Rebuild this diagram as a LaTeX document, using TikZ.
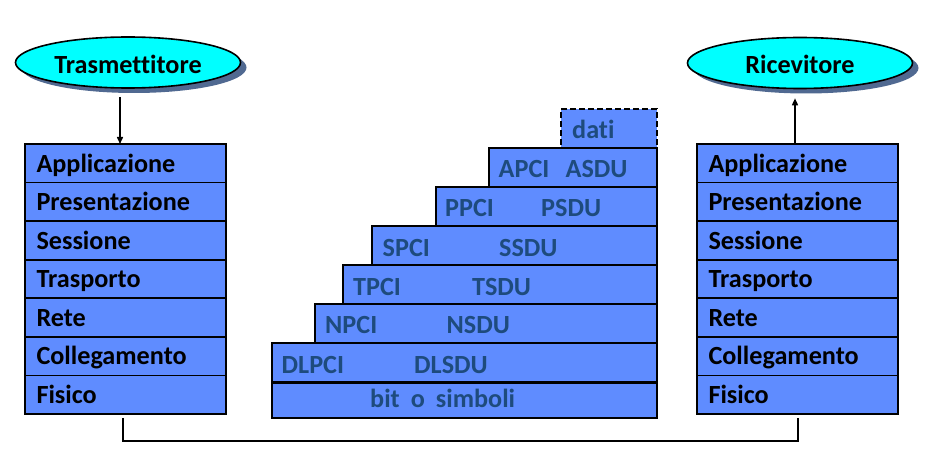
\documentclass[tikz,border=0pt]{standalone}
\usepackage{fontspec}
\setmainfont{Carlito}[Ligatures={TeX,CommonOff}]
\usetikzlibrary{arrows.meta}
\usetikzlibrary{positioning}
\usetikzlibrary{shapes.geometric}
\usetikzlibrary{shadows}
\definecolor{layerblue}{RGB}{95,140,255}
\definecolor{partycyan}{RGB}{0,255,255}
\definecolor{pdutext}{RGB}{30,75,125}
\definecolor{shadowblue}{RGB}{80,105,145}
\newcommand{\bigbold}{\fontsize{26.2}{30}\selectfont\bfseries}

\begin{document}
\begin{tikzpicture}[x=1pt,y=-1pt,
        party/.style={ellipse,draw,line width=1.6pt,fill=partycyan,minimum width=225pt,minimum height=51pt,inner sep=0pt,
            text height=22pt,text depth=0pt,font=\bigbold,
            drop shadow={shadow xshift=6pt,shadow yshift=-5pt,fill=shadowblue,opacity=1}},
        layer/.style={draw,line width=1.8pt,fill=layerblue,minimum height=38.57pt,text width=178pt,inner xsep=11.5pt,inner ysep=0pt,
            text height=21pt,text depth=3.5pt,align=left,font=\bigbold,outer sep=0pt},
        pdubox/.style={draw,line width=1.8pt,fill=layerblue,anchor=north east,minimum height=39pt,inner sep=0pt,outer sep=0pt},
        pdu/.style={anchor=base west,inner sep=0pt,text=pdutext,font=\bigbold},
        flow/.style={line width=1.5pt,-{Triangle[length=7pt,width=6pt]}}]
    \useasboundingbox (0,0) rectangle (926,465);

    % end systems
    \node[party] (trasm) at (128,62.5) {Trasmettitore};
    \node[party] (ricev) at (800,63) {Ricevitore};

    % transmitter stack
    \node[layer,anchor=north west] (tApp) at (25,144) {Applicazione};
    \node[layer,below=0pt of tApp] (tPres) {Presentazione};
    \node[layer,below=0pt of tPres] (tSess) {Sessione};
    \node[layer,below=0pt of tSess] (tTras) {Trasporto};
    \node[layer,below=0pt of tTras] (tRete) {Rete};
    \node[layer,below=0pt of tRete] (tColl) {Collegamento};
    \node[layer,below=0pt of tColl] (tFis) {Fisico};

    % receiver stack
    \node[layer,anchor=north west] (rApp) at (697,144) {Applicazione};
    \node[layer,below=0pt of rApp] (rPres) {Presentazione};
    \node[layer,below=0pt of rPres] (rSess) {Sessione};
    \node[layer,below=0pt of rSess] (rTras) {Trasporto};
    \node[layer,below=0pt of rTras] (rRete) {Rete};
    \node[layer,below=0pt of rRete] (rColl) {Collegamento};
    \node[layer,below=0pt of rColl] (rFis) {Fisico};

    % encapsulation staircase
    \node[pdubox,minimum width=96pt,dash pattern=on 6pt off 3pt] (dati) at (657,109) {};
    \node[pdubox,minimum width=168pt] (apdu) at (657,148) {};
    \node[pdubox,minimum width=221pt] (ppdu) at (657,187) {};
    \node[pdubox,minimum width=285pt] (spdu) at (657,226) {};
    \node[pdubox,minimum width=314pt] (tpdu) at (657,265) {};
    \node[pdubox,minimum width=342pt] (npdu) at (657,304) {};
    \node[pdubox,minimum width=385pt] (dlpdu) at (657,343) {};
    \node[pdubox,minimum width=385pt,minimum height=35pt] (bits) at (657,383) {};

    \node[pdu] (datiT) at (572,139) {dati};
    \node[pdu] (apci) at (498.5,178) {APCI};
    \node[pdu] (asdu) at (565.5,178) {ASDU};
    \node[pdu] (ppci) at (445,217) {PPCI};
    \node[pdu] (psdu) at (541,217) {PSDU};
    \node[pdu] (spci) at (382.5,256) {SPCI};
    \node[pdu] (ssdu) at (499,256) {SSDU};
    \node[pdu] (tpci) at (353,295) {TPCI};
    \node[pdu] (tsdu) at (472,295) {TSDU};
    \node[pdu] (npci) at (325,333.5) {NPCI};
    \node[pdu] (nsdu) at (446.5,333.5) {NSDU};
    \node[pdu] (dlpci) at (281.5,373) {DLPCI};
    \node[pdu] (dlsdu) at (414,373) {DLSDU};
    \node[pdu] (bitsT) at (370,407) {bit\hspace{11pt}o\hspace{11pt}simboli};

    % connections
    \draw[flow] ([xshift=-8pt,yshift=-8pt]trasm.south) -- ([xshift=-5.5pt]tApp.north);
    \draw[flow] ([xshift=-2.5pt]rApp.north) -- ([xshift=-5pt,yshift=-9pt]ricev.south);
    \draw[line width=1.6pt] ([xshift=-2.5pt,yshift=-4pt]tFis.south) -- ++(0,23) -| ([xshift=0.5pt,yshift=-4pt]rFis.south);
\end{tikzpicture}
\end{document}
